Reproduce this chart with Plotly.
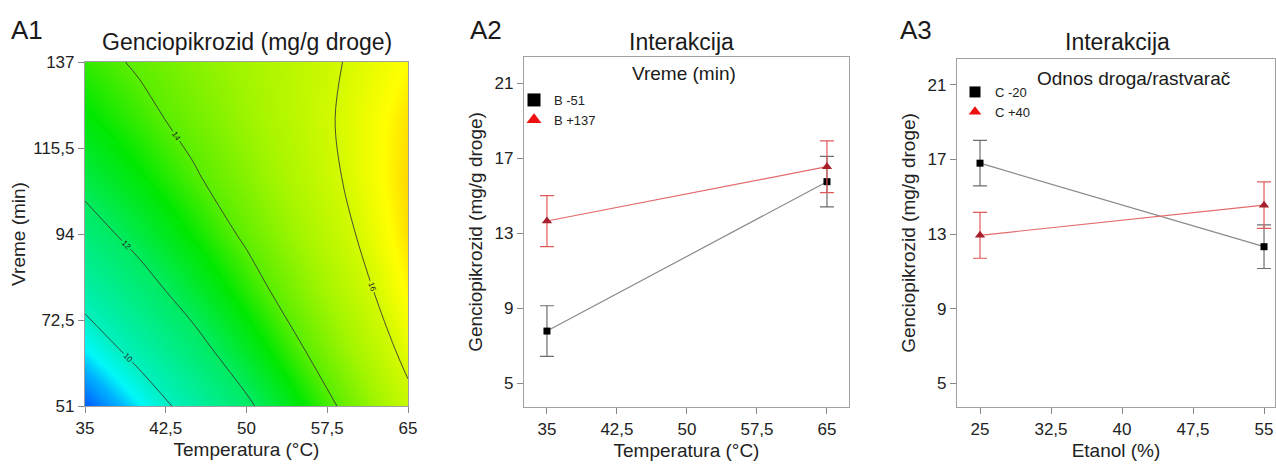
import plotly.graph_objects as go

W, H = 1276, 464
FONT = "Liberation Sans, Arial, sans-serif"

# ---------------- A1 data: response surface grid
temp_grid = [35, 40, 45, 50, 55, 60, 65]
time_grid = [51, 65.33, 79.67, 94, 108.33, 122.67, 137]
z_grid = [
    [7.92, 9.21, 10.50, 11.80, 13.11, 14.42, 15.74],    # 51
    [9.27, 10.43, 11.58, 12.75, 13.92, 15.10, 16.29],   # 65.33
    [10.47, 11.48, 12.51, 13.54, 14.58, 15.62, 16.67],  # 79.67
    [11.50, 12.38, 13.27, 14.17, 15.07, 15.98, 16.90],  # 94
    [12.37, 13.12, 13.88, 14.64, 15.41, 16.18, 16.97],  # 108.33
    [13.09, 13.70, 14.32, 14.95, 15.58, 16.23, 16.87],  # 122.67
    [13.64, 14.12, 14.61, 15.10, 15.60, 16.11, 16.62],  # 137
]
a1_xticks = [35, 42.5, 50, 57.5, 65]
a1_xtext = ["35", "42,5", "50", "57,5", "65"]
a1_yticks = [51, 72.5, 94, 115.5, 137]
a1_ytext = ["51", "72,5", "94", "115,5", "137"]

# ---------------- A2 data
a2_x = [35, 65]
a2_low = [7.77, 15.74]      # B -51
a2_low_err = [1.35, 1.35]
a2_high = [13.64, 16.54]    # B +137
a2_high_err = [1.36, 1.38]
a2_xticks = [35, 42.5, 50, 57.5, 65]
a2_xtext = ["35", "42,5", "50", "57,5", "65"]

# ---------------- A3 data
a3_x = [25, 55]
a3_low = [16.80, 12.32]     # C -20
a3_low_err = [1.22, 1.17]
a3_high = [12.93, 14.55]    # C +40
a3_high_err = [1.23, 1.25]
a3_xticks = [25, 32.5, 40, 47.5, 55]
a3_xtext = ["25", "32,5", "40", "47,5", "55"]

y_ticks = [5, 9, 13, 17, 21]
y_text = ["5", "9", "13", "17", "21"]


def px_x(p):
    return p / W


def px_y(p):
    return 1 - p / H


colorscale = [
    [0.000, "rgb(0,90,255)"],
    [0.099, "rgb(0,180,255)"],
    [0.154, "rgb(0,248,248)"],
    [0.231, "rgb(0,240,190)"],
    [0.451, "rgb(0,235,95)"],
    [0.582, "rgb(0,232,0)"],
    [0.670, "rgb(90,238,0)"],
    [0.780, "rgb(160,245,0)"],
    [0.890, "rgb(212,250,0)"],
    [0.956, "rgb(255,255,0)"],
    [1.000, "rgb(255,212,0)"],
]

fig = go.Figure()

fig.add_trace(go.Heatmap(
    x=temp_grid, y=time_grid, z=z_grid, zsmooth="best",
    colorscale=colorscale, zmin=7.9, zmax=17.0, showscale=False,
    xaxis="x", yaxis="y", hoverinfo="skip", showlegend=False))
fig.add_trace(go.Contour(
    x=temp_grid, y=time_grid, z=z_grid,
    contours=dict(start=10, end=16, size=2, coloring="none", showlabels=True,
                  labelfont=dict(size=8, color="#222", family=FONT)),
    line=dict(color="rgba(50,50,50,0.85)", width=1, smoothing=1.0),
    showscale=False, showlegend=False, xaxis="x", yaxis="y", hoverinfo="skip"))

GRAY_LINE = "#8a8a8a"
RED_LINE = "#e46a6a"


def add_series(xs, ys, errs, xa, ya, kind):
    if kind == "low":
        fig.add_trace(go.Scatter(
            x=xs, y=ys, mode="lines+markers", xaxis=xa, yaxis=ya,
            line=dict(color=GRAY_LINE, width=1.2),
            marker=dict(symbol="square", size=7, color="black"),
            error_y=dict(type="data", array=errs, color="#6e6e6e", thickness=1.2, width=7),
            showlegend=False))
    else:
        fig.add_trace(go.Scatter(
            x=xs, y=ys, mode="lines+markers", xaxis=xa, yaxis=ya,
            line=dict(color=RED_LINE, width=1.2),
            marker=dict(symbol="triangle-up", size=9, color="#a5202a"),
            error_y=dict(type="data", array=errs, color="#e05a5a", thickness=1.2, width=7),
            showlegend=False))


add_series(a2_x, a2_low, a2_low_err, "x2", "y2", "low")
add_series(a2_x, a2_high, a2_high_err, "x2", "y2", "high")
add_series(a3_x, a3_low, a3_low_err, "x3", "y3", "low")
add_series(a3_x, a3_high, a3_high_err, "x3", "y3", "high")

# legend entries
fig.add_trace(go.Scatter(x=[None], y=[None], mode="markers", name="B -51", xaxis="x2", yaxis="y2",
                         marker=dict(symbol="square", size=13, color="black"), legend="legend"))
fig.add_trace(go.Scatter(x=[None], y=[None], mode="markers", name="B +137", xaxis="x2", yaxis="y2",
                         marker=dict(symbol="triangle-up", size=13, color="#ee1111"), legend="legend"))
fig.add_trace(go.Scatter(x=[None], y=[None], mode="markers", name="C -20", xaxis="x3", yaxis="y3",
                         marker=dict(symbol="square", size=11, color="black"), legend="legend2"))
fig.add_trace(go.Scatter(x=[None], y=[None], mode="markers", name="C +40", xaxis="x3", yaxis="y3",
                         marker=dict(symbol="triangle-up", size=11, color="#ee1111"), legend="legend2"))

tickfont = dict(family=FONT, size=17, color="#222")
titlefont = dict(family=FONT, size=19, color="#222")

common_ax = dict(showgrid=False, zeroline=False, ticks="outside", ticklen=6, tickcolor="#888",
                 tickwidth=1, showline=True, linecolor="#a0a0a0", linewidth=1.2, mirror=True,
                 tickfont=tickfont, title_font=titlefont, automargin=False)

fig.update_layout(
    width=W, height=H, margin=dict(l=0, r=0, t=0, b=0, autoexpand=False),
    paper_bgcolor="white", plot_bgcolor="white",
    font=dict(family=FONT, color="#222"),
    xaxis=dict(domain=[px_x(85), px_x(408)], range=[35, 65], anchor="y",
               tickvals=a1_xticks, ticktext=a1_xtext,
               title=dict(text="Temperatura (°C)", standoff=6), **common_ax),
    yaxis=dict(domain=[px_y(406), px_y(62)], range=[51, 137], anchor="x",
               tickvals=a1_yticks, ticktext=a1_ytext,
               title=dict(text="Vreme (min)", standoff=2), **common_ax),
    xaxis2=dict(domain=[px_x(524), px_x(849)], range=[32.54, 67.36], anchor="y2",
                tickvals=a2_xticks, ticktext=a2_xtext,
                title=dict(text="Temperatura (°C)", standoff=6), **common_ax),
    yaxis2=dict(domain=[px_y(407), px_y(57)], range=[3.72, 22.39], anchor="x2",
                tickvals=y_ticks, ticktext=y_text,
                title=dict(text="Genciopikrozid (mg/g droge)", standoff=6), **common_ax),
    xaxis3=dict(domain=[px_x(957), px_x(1275)], range=[22.57, 56.16], anchor="y3",
                tickvals=a3_xticks, ticktext=a3_xtext,
                title=dict(text="Etanol (%)", standoff=6), **common_ax),
    yaxis3=dict(domain=[px_y(407), px_y(59)], range=[3.72, 22.39], anchor="x3",
                tickvals=y_ticks, ticktext=y_text,
                title=dict(text="Genciopikrozid (mg/g droge)", standoff=6), **common_ax),
    legend=dict(x=px_x(514), y=px_y(85), xanchor="left", yanchor="top",
                bgcolor="rgba(0,0,0,0)", font=dict(family=FONT, size=13, color="#222"),
                itemwidth=30, tracegroupgap=0),
    legend2=dict(x=px_x(955), y=px_y(77), xanchor="left", yanchor="top",
                 bgcolor="rgba(0,0,0,0)", font=dict(family=FONT, size=13, color="#222"),
                 itemwidth=30, tracegroupgap=0),
)

ann = [
    dict(text="A1", x=px_x(9), y=px_y(30), xanchor="left", size=26),
    dict(text="Genciopikrozid (mg/g droge)", x=px_x(247), y=px_y(42), xanchor="center", size=23),
    dict(text="A2", x=px_x(468), y=px_y(30), xanchor="left", size=26),
    dict(text="Interakcija", x=px_x(681), y=px_y(42), xanchor="center", size=23),
    dict(text="Vreme (min)", x=px_x(684), y=px_y(73), xanchor="center", size=19),
    dict(text="A3", x=px_x(898), y=px_y(30), xanchor="left", size=26),
    dict(text="Interakcija", x=px_x(1117), y=px_y(42), xanchor="center", size=23),
    dict(text="Odnos droga/rastvarač", x=px_x(1133), y=px_y(78), xanchor="center", size=19),
]
for a in ann:
    fig.add_annotation(text=a["text"], x=a["x"], y=a["y"], xref="paper", yref="paper",
                       xanchor=a["xanchor"], yanchor="middle", showarrow=False,
                       font=dict(family=FONT, size=a["size"], color="#1a1a1a"))

fig.write_html("out.html")
